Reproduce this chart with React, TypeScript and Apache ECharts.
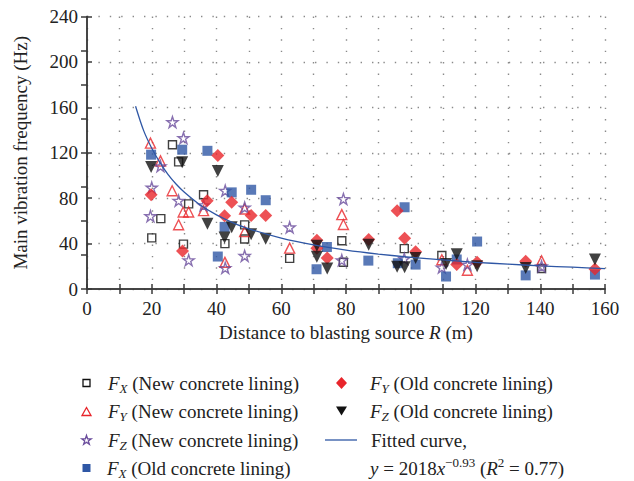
import React, { useEffect, useRef } from "react";
import * as echarts from "echarts";

// ---------- data ----------
const fxNew: [number, number][] = [
  [20, 45], [22.8, 62], [26.4, 127], [28.3, 112], [29.8, 39.5], [31.4, 75], [36, 83],
  [42.6, 40], [48.7, 56.5], [48.7, 44], [62.6, 27], [78.7, 42.5], [79.2, 23.5],
  [98, 35.6], [109.6, 29.5], [140.4, 18],
];
const fyNew: [number, number][] = [
  [19.6, 128.5], [22.7, 112.8], [26.3, 86.5], [28.3, 56.6], [29.7, 67.8], [31.4, 67.8],
  [36, 69], [42.6, 23.5], [48.7, 50.5], [48.7, 70.5], [62.6, 36], [78.7, 65.5],
  [79.2, 56.8], [109.6, 25.8], [117.5, 16.5], [140.4, 24.8],
];
const fzNew: [number, number][] = [
  [26.4, 147], [29.8, 133], [20, 89.3], [19.6, 64.2], [22.7, 108.2], [28.3, 77.8],
  [31.4, 25.4], [36, 73.8], [42.7, 86.6], [42.7, 18.6], [48.7, 71.8], [48.7, 29.2],
  [62.6, 54.3], [79.2, 79.3], [78.7, 25.4], [98, 26.6], [109.6, 19], [117.5, 21.5],
  [140.4, 20],
];
const fxOld: [number, number][] = [
  [19.8, 118.3], [29.4, 122.7], [37.2, 121.7], [40.4, 28.6], [42.5, 54.7], [44.7, 85.1],
  [50.7, 87.4], [55.2, 78.2], [70.9, 17.4], [74.1, 37], [86.9, 25], [96, 22.7],
  [98.1, 72], [101.5, 21.5], [110.9, 11], [114.2, 26], [120.5, 41.8], [135.5, 12],
  [156.9, 12.7],
];
const fyOld: [number, number][] = [
  [19.8, 83], [29.5, 33.5], [37.1, 77.8], [40.4, 117.5], [42.5, 64.5], [44.7, 76.5],
  [50.7, 64.7], [55.2, 64.7], [71, 43], [71, 36], [74.2, 27.4], [87, 43.5], [95.8, 69],
  [98.1, 44.8], [101.5, 32.7], [114.2, 21.5], [120.5, 23.5], [135.5, 24.4], [156.9, 17.7],
];
const fzOld: [number, number][] = [
  [19.8, 107.4], [29.4, 111.7], [37.2, 57.4], [40.4, 104], [42.5, 45.3], [44.7, 54.3],
  [50.7, 48.2], [55.2, 44.2], [71, 38.2], [71, 28.3], [74.2, 18], [87, 39], [95.8, 19.5],
  [98.1, 19.2], [101.5, 27.4], [110.9, 22], [114.2, 30.5], [120.5, 20], [135.5, 18.5],
  [156.9, 26],
];
const fittedCurve: [number, number][] = [
  [15, 161], [17.5, 139.5], [20, 124], [22.5, 111.5], [25, 101], [27.5, 92.5], [30, 85.5],
  [35, 74], [40, 65.3], [45, 58.5], [50, 53], [60, 44.8], [70, 38.8], [80, 34.3],
  [90, 30.8], [100, 27.9], [110, 25.6], [120, 23.5], [130, 21.9], [140, 20.4],
  [150, 19.2], [160, 18],
];

const xTitle = "Distance to blasting source {i|R} (m)";
const yTitle = "Main vibration frequency (Hz)";
const legendLabels: Record<string, string> = {
  fxNew: "{i|F}{sub|X} (New concrete lining)",
  fyNew: "{i|F}{sub|Y} (New concrete lining)",
  fzNew: "{i|F}{sub|Z} (New concrete lining)",
  fxOld: "{i|F}{sub|X} (Old concrete lining)",
  fyOld: "{i|F}{sub|Y} (Old concrete lining)",
  fzOld: "{i|F}{sub|Z} (Old concrete lining)",
  curve: "Fitted curve,",
};
const curveFormula = "{i|y} = 2018{i|x}{sup|\u22120.93} ({i|R}{sup|2} = 0.77)";

// ---------- styling ----------
const FONT = '"Liberation Serif", "Times New Roman", serif';
const FS = 19;
const RED = "#e8252b";
const PURPLE = "#6a4c9c";
const BLUE = "#2f57a5";
const BLACK = "#111111";
const STAR =
  "path://M50,2 L61.8,37.6 L99,37.6 L68.9,59.6 L80.3,95.1 L50,73.1 L19.7,95.1 L31.1,59.6 L1,37.6 L38.2,37.6 Z";
const STAR_UNIT: [number, number][] = [
  [50, 2], [61.8, 37.6], [99, 37.6], [68.9, 59.6], [80.3, 95.1], [50, 73.1],
  [19.7, 95.1], [31.1, 59.6], [1, 37.6], [38.2, 37.6],
];

const rich = {
  i: { fontFamily: FONT, fontSize: FS, fontStyle: "italic", color: "#222", lineHeight: 24 },
  sub: { fontFamily: FONT, fontSize: 13, fontStyle: "italic", color: "#222", lineHeight: 14, verticalAlign: "bottom" },
  sup: { fontFamily: FONT, fontSize: 13, color: "#222", lineHeight: 14, verticalAlign: "top" },
};

export default function App() {
  const ref = useRef<HTMLDivElement>(null);
  useEffect(() => {
    if (!ref.current) return;
    const chart = echarts.init(ref.current, undefined, { renderer: "svg" });
    const axisLineStyle = { color: "#3a3a3a", width: 1.5 };
    const dotted = { color: "#8a8a8a", width: 1.4, type: [1.4, 10] as any };

    // legend text (icons drawn separately below)
    const legendItem = (name: string, tx: number, cy: number) => ({
      data: [name],
      left: tx - 15,
      top: cy - 12,
      padding: 0,
      itemWidth: 10,
      itemHeight: 10,
      selectedMode: false,
      itemStyle: { opacity: 0 },
      lineStyle: { opacity: 0 },
      formatter: (n: string) => legendLabels[n],
      textStyle: {
        fontFamily: FONT,
        fontSize: FS,
        color: "#222",
        lineHeight: 24,
        rich,
      },
    });

    const hollow = (c: string) => ({ fill: "none", stroke: c, lineWidth: 1.3 });
    const starPts = (cx: number, cy: number, s: number) =>
      STAR_UNIT.map(([px, py]) => [cx + ((px - 50) * s) / 100, cy + ((py - 50) * s) / 100]);

    chart.setOption({
      animation: false,
      backgroundColor: "#ffffff",
      grid: { left: 87, right: 29, top: 16.5, bottom: 192, containLabel: false },
      xAxis: [
        {
          type: "value",
          min: 0,
          max: 160,
          interval: 10,
          position: "bottom",
          name: xTitle,
          nameLocation: "middle",
          nameGap: 31,
          nameTextStyle: { fontFamily: FONT, fontSize: FS, color: "#222", rich },
          axisLine: { show: true, lineStyle: axisLineStyle },
          axisTick: { show: true, inside: true, length: 5, lineStyle: axisLineStyle },
          axisLabel: {
            fontFamily: FONT,
            fontSize: FS,
            color: "#222",
            margin: 10,
            formatter: (v: number) => (v % 20 === 0 ? String(v) : ""),
          },
          splitLine: { show: true, lineStyle: dotted },
        },
        {
          type: "value",
          min: 0,
          max: 160,
          interval: 10,
          position: "top",
          axisLine: { show: true, lineStyle: axisLineStyle },
          axisTick: { show: true, inside: true, length: 5, lineStyle: axisLineStyle },
          axisLabel: { show: false },
          splitLine: { show: false },
        },
      ],
      yAxis: [
        {
          type: "value",
          min: 0,
          max: 240,
          interval: 40,
          position: "left",
          name: yTitle,
          nameLocation: "middle",
          nameGap: 57,
          nameTextStyle: { fontFamily: FONT, fontSize: FS, color: "#222" },
          axisLine: { show: true, lineStyle: axisLineStyle },
          axisTick: { show: true, inside: true, length: 5, lineStyle: axisLineStyle },
          axisLabel: { fontFamily: FONT, fontSize: FS, color: "#222", margin: 9 },
          splitLine: { show: true, lineStyle: dotted },
        },
        {
          type: "value",
          min: 0,
          max: 240,
          interval: 30,
          position: "right",
          axisLine: { show: true, lineStyle: axisLineStyle },
          axisTick: { show: true, inside: true, length: 6, lineStyle: axisLineStyle },
          axisLabel: { show: false },
          splitLine: { show: false },
        },
      ],
      legend: [
        legendItem("fxNew", 107, 383),
        legendItem("fyNew", 107, 411),
        legendItem("fzNew", 107, 440),
        legendItem("fxOld", 107, 468),
        legendItem("fyOld", 370, 383),
        legendItem("fzOld", 370, 411),
        legendItem("curve", 370, 440),
      ],
      graphic: [
        // legend icons
        { type: "rect", shape: { x: 83, y: 379.5, width: 7, height: 7 }, style: hollow(BLACK) },
        { type: "polygon", shape: { points: [[82, 415.5], [91, 415.5], [86.5, 407.5]] }, style: hollow(RED) },
        { type: "polygon", shape: { points: starPts(86.5, 440, 9.5) }, style: hollow(PURPLE) },
        { type: "rect", shape: { x: 82.5, y: 464, width: 8, height: 8 }, style: { fill: BLUE } },
        { type: "polygon", shape: { points: [[341.5, 377], [347, 383], [341.5, 389], [336, 383]] }, style: { fill: RED } },
        { type: "polygon", shape: { points: [[336, 406.5], [347, 406.5], [341.5, 415.5]] }, style: { fill: BLACK } },
        { type: "line", shape: { x1: 325, y1: 440, x2: 357, y2: 440 }, style: { stroke: BLUE, lineWidth: 1.3 } },
        {
          type: "text",
          left: 370,
          top: 456,
          style: {
            text: curveFormula,
            fontFamily: FONT,
            fontSize: FS,
            fill: "#222",
            lineHeight: 24,
            rich,
          },
        },
      ],
      series: [
        {
          name: "fxNew",
          type: "scatter",
          data: fxNew,
          symbol: "rect",
          symbolSize: 8,
          itemStyle: { color: "rgba(0,0,0,0)", borderColor: BLACK, borderWidth: 1.4 },
        },
        {
          name: "fyNew",
          type: "scatter",
          data: fyNew,
          symbol: "triangle",
          symbolSize: 10,
          itemStyle: { color: "rgba(0,0,0,0)", borderColor: RED, borderWidth: 1.4 },
        },
        {
          name: "fzNew",
          type: "scatter",
          data: fzNew,
          symbol: STAR,
          symbolSize: 11,
          itemStyle: { color: "rgba(0,0,0,0)", borderColor: PURPLE, borderWidth: 1.4 },
        },
        {
          name: "fxOld",
          type: "scatter",
          data: fxOld,
          symbol: "rect",
          symbolSize: 10,
          itemStyle: { color: BLUE },
        },
        {
          name: "fyOld",
          type: "scatter",
          data: fyOld,
          symbol: "diamond",
          symbolSize: 13,
          itemStyle: { color: RED },
        },
        {
          name: "fzOld",
          type: "scatter",
          data: fzOld,
          symbol: "triangle",
          symbolRotate: 180,
          symbolSize: 12,
          itemStyle: { color: BLACK },
        },
        {
          name: "curve",
          type: "line",
          data: fittedCurve,
          smooth: 0.3,
          symbol: "none",
          lineStyle: { color: BLUE, width: 1.3 },
          itemStyle: { color: BLUE },
          z: 3,
        },
      ],
    });
    return () => chart.dispose();
  }, []);

  return (
    <div
      ref={ref}
      style={{ position: "fixed", left: 0, top: 0, width: 634, height: 481, background: "#fff" }}
    />
  );
}
